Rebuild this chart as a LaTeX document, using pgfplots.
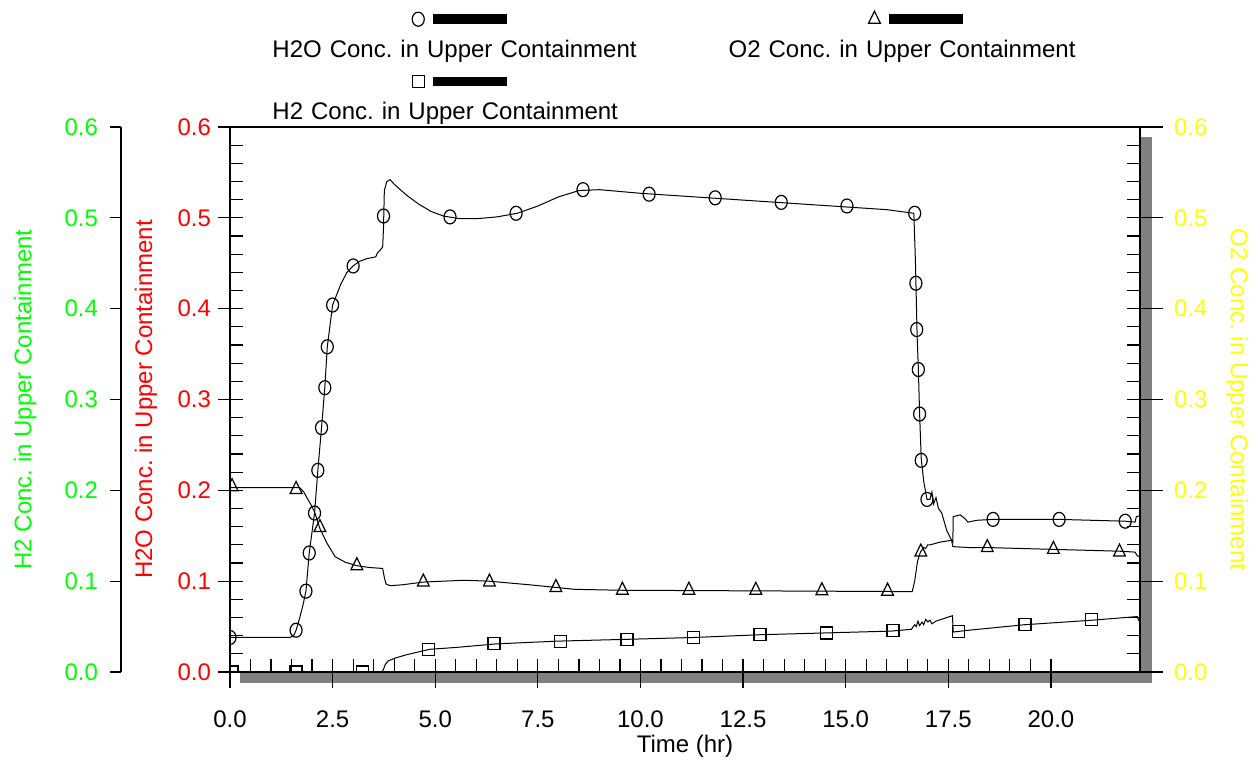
\documentclass[border=0pt]{standalone}
\usepackage{fontspec}
\setmainfont{Liberation Sans}
\usepackage{pgfplots}
\pgfplotsset{compat=1.18}
\definecolor{lgreen}{RGB}{0,255,0}
\definecolor{lred}{RGB}{255,0,0}
\definecolor{lyellow}{RGB}{255,255,0}
\definecolor{shadowgray}{RGB}{128,128,128}
\newcommand{\lbl}{\fontsize{12}{14}\selectfont\frenchspacing}
\pgfplotsset{
  base/.style={scale only axis, width=455pt, height=272.5pt,
    xmin=0, xmax=22.17, ymin=0, ymax=0.6,
    at={(115pt,46pt)}, anchor=south west,
    xtick={0,2.5,5,7.5,10,12.5,15,17.5,20},
    ytick={0,0.1,0.2,0.3,0.4,0.5,0.6},
    tick label style={font=\lbl},
    label style={font=\lbl},
    tick style={black, line width=0.6pt},
    axis line style={black, line width=0.7pt}},
  yl/.style={yticklabels={0.0,0.1,0.2,0.3,0.4,0.5,0.6}},
}
\pgfplotstableread{
t v
0 0.038
1.46 0.038
1.55 0.040
1.61 0.046
1.70 0.060
1.78 0.074
1.85 0.089
1.93 0.131
2.06 0.175
2.14 0.222
2.23 0.269
2.31 0.313
2.37 0.358
2.50 0.404
2.70 0.427
2.85 0.440
3.00 0.447
3.15 0.452
3.33 0.455
3.55 0.457
3.60 0.462
3.65 0.464
3.72 0.468
3.74 0.490
3.76 0.530
3.82 0.540
3.90 0.542
4.00 0.537
4.30 0.525
4.60 0.515
4.90 0.507
5.20 0.502
5.60 0.499
6.00 0.499
6.50 0.501
7.00 0.505
7.50 0.513
8.00 0.523
8.50 0.530
9.00 0.531
10.0 0.527
12.0 0.521
14.0 0.515
16.0 0.509
16.66 0.505
16.70 0.450
16.72 0.410
16.74 0.370
16.77 0.334
16.80 0.285
16.84 0.235
16.90 0.210
16.98 0.190
17.05 0.190
17.10 0.198
17.14 0.185
17.20 0.192
17.26 0.180
17.34 0.175
17.46 0.156
17.58 0.145
17.61 0.143
17.62 0.171
17.79 0.173
17.90 0.169
17.98 0.165
18.19 0.167
18.59 0.168
20.20 0.168
21.81 0.166
22.05 0.165
22.08 0.171
22.17 0.172
}\htwoo
\pgfplotstableread{
t v
0 0.038
1.61 0.046
1.85 0.089
1.93 0.131
2.06 0.175
2.14 0.222
2.23 0.269
2.31 0.313
2.37 0.358
2.50 0.404
3.00 0.447
3.74 0.502
5.36 0.501
6.97 0.505
8.60 0.531
10.21 0.526
11.82 0.522
13.43 0.517
15.03 0.513
16.68 0.505
16.71 0.428
16.73 0.377
16.77 0.333
16.80 0.284
16.84 0.233
16.98 0.190
18.59 0.168
20.20 0.168
21.81 0.166
}\htwoomk
\pgfplotstableread{
t v
0 0.203
1.70 0.203
1.80 0.198
1.91 0.189
2.00 0.182
2.07 0.175
2.19 0.158
2.36 0.142
2.56 0.127
2.80 0.121
3.09 0.117
3.40 0.115
3.72 0.114
3.76 0.104
3.80 0.097
3.90 0.095
4.20 0.096
4.71 0.099
5.70 0.101
6.30 0.100
7.30 0.096
8.40 0.091
9.50 0.090
16.62 0.0885
16.68 0.100
16.75 0.122
16.82 0.132
16.90 0.137
16.95 0.136
17.00 0.140
17.06 0.140
17.30 0.143
17.58 0.145
17.61 0.138
18.00 0.137
18.44 0.137
20.05 0.135
21.66 0.133
22.05 0.132
22.10 0.128
22.17 0.127
}\otwo
\pgfplotstableread{
t v
0.05 0.204
1.61 0.201
2.19 0.159
3.09 0.117
4.71 0.099
6.32 0.099
7.94 0.093
9.56 0.090
11.18 0.090
12.81 0.090
14.42 0.0895
16.02 0.089
16.83 0.132
18.45 0.137
20.06 0.135
21.67 0.132
}\otwomk
\pgfplotstableread{
t v
0 0
3.70 0
3.74 0.003
3.78 0.008
3.85 0.012
4.00 0.015
4.30 0.019
4.87 0.025
5.50 0.027
6.50 0.031
8.00 0.034
9.70 0.036
11.30 0.038
12.90 0.041
14.50 0.043
16.10 0.045
16.60 0.047
16.68 0.052
16.72 0.050
16.76 0.056
16.80 0.051
16.86 0.055
16.90 0.052
16.95 0.058
17.00 0.055
17.05 0.057
17.10 0.053
17.20 0.056
17.40 0.059
17.60 0.062
17.62 0.044
18.00 0.046
19.35 0.052
21.00 0.057
22.10 0.061
22.15 0.056
22.17 0.055
}\htwo
\pgfplotstableread{
t v
0.05 0
1.61 0
3.22 0
4.84 0.025
6.43 0.0316
8.05 0.034
9.67 0.036
11.29 0.038
12.91 0.041
14.53 0.043
16.15 0.046
17.75 0.045
19.37 0.0525
20.98 0.058
}\htwomk
\begin{document}
\frenchspacing
\begin{tikzpicture}
\path[use as bounding box] (0,0) rectangle (629pt,382pt);
% data axis
\begin{axis}[base, hide axis, clip marker paths=true,
  legend columns=2,
  legend style={draw=none, fill=none, font=\lbl,
    at={(0.035,1.175)}, anchor=north west,
    row sep=17pt,
    /tikz/every even column/.append style={text width=224pt}},
  legend cell align=left,
  legend image code/.code={%
    \path[draw=none,fill=none] (0pt,0pt) -- (0.1pt,0pt);
    \draw[overlay] plot coordinates {(75pt,15.5pt)};
    \fill[overlay,black] (82.5pt,13.5pt) rectangle (119pt,17.8pt);
  },
]
\addplot[black, line width=0.5pt, forget plot] table {\htwoo};
\addplot[black, line width=0.5pt, forget plot] table {\otwo};
\addplot[black, line width=0.5pt, forget plot] table {\htwo};
\addplot[black, only marks, mark=o, mark size=3.5pt, mark options={xscale=0.86, line width=0.6pt}] table {\htwoomk};
\addlegendentry{H2O Conc. in Upper Containment}
\addplot[black, only marks, mark=triangle, mark size=4pt, mark options={xscale=0.85, line width=0.6pt}] table {\otwomk};
\addlegendentry{O2 Conc. in Upper Containment}
\addplot[black, only marks, mark=square, mark size=3pt, mark options={line width=0.6pt}] table {\htwomk};
\addlegendentry{H2 Conc. in Upper Containment}
\end{axis}
% shadow
\fill[shadowgray] (120pt,40.5pt) rectangle (576pt,46pt);
\fill[shadowgray] (570pt,40.5pt) rectangle (576pt,313.5pt);
% frame with inner ticks
\begin{axis}[base, axis lines=box, tick align=inside,
  xtick pos=bottom, ytick pos=both,
  minor x tick num=4, minor y tick num=4,
  major tick length=6.5pt, minor tick length=6.5pt,
  xticklabels={}, yticklabels={}]
\end{axis}
% bottom outward ticks + labels
\begin{axis}[base, axis x line*=bottom, axis y line=none, tick align=outside,
  major tick length=8pt,
  xticklabels={0.0,2.5,5.0,7.5,10.0,12.5,15.0,17.5,20.0},
  xticklabel style={yshift=-8pt},
  xlabel={Time (hr)},
  xlabel style={at={(axis description cs:0.5,0)}, yshift=-37pt, anchor=center}]
\end{axis}
% left red axis
\begin{axis}[base, axis y line*=left, axis x line=none, tick align=outside,
  major tick length=6pt, yl,
  yticklabel style={text=lred},
  ylabel={H2O Conc. in Upper Containment},
  ylabel style={text=lred, at={(axis description cs:-0.0923,0.5)}, anchor=center}]
\end{axis}
% right yellow axis
\begin{axis}[base, axis y line*=right, axis x line=none, tick align=outside,
  major tick length=11.5pt, yl,
  yticklabel style={text=lyellow, xshift=2pt},
  ylabel={O2 Conc. in Upper Containment},
  ylabel style={text=lyellow, at={(axis description cs:1.1066,0.5)}, anchor=center, rotate=180}]
\end{axis}
% left green axis
\begin{axis}[scale only axis, width=1pt, height=272.5pt, xmin=0, xmax=1, ymin=0, ymax=0.6,
  at={(60.5pt,46pt)}, anchor=south west,
  ytick={0,0.1,0.2,0.3,0.4,0.5,0.6}, yl,
  tick label style={font=\lbl}, label style={font=\lbl},
  tick style={black, line width=0.6pt}, axis line style={black, line width=0.7pt},
  axis y line*=left, axis x line=none, tick align=outside,
  major tick length=5.5pt,
  yticklabel style={text=lgreen, xshift=-2.5pt},
  ylabel={H2 Conc. in Upper Containment},
  ylabel style={text=lgreen, at={(axis description cs:-48,0.5)}, anchor=center}]
\end{axis}
\end{tikzpicture}
\end{document}
